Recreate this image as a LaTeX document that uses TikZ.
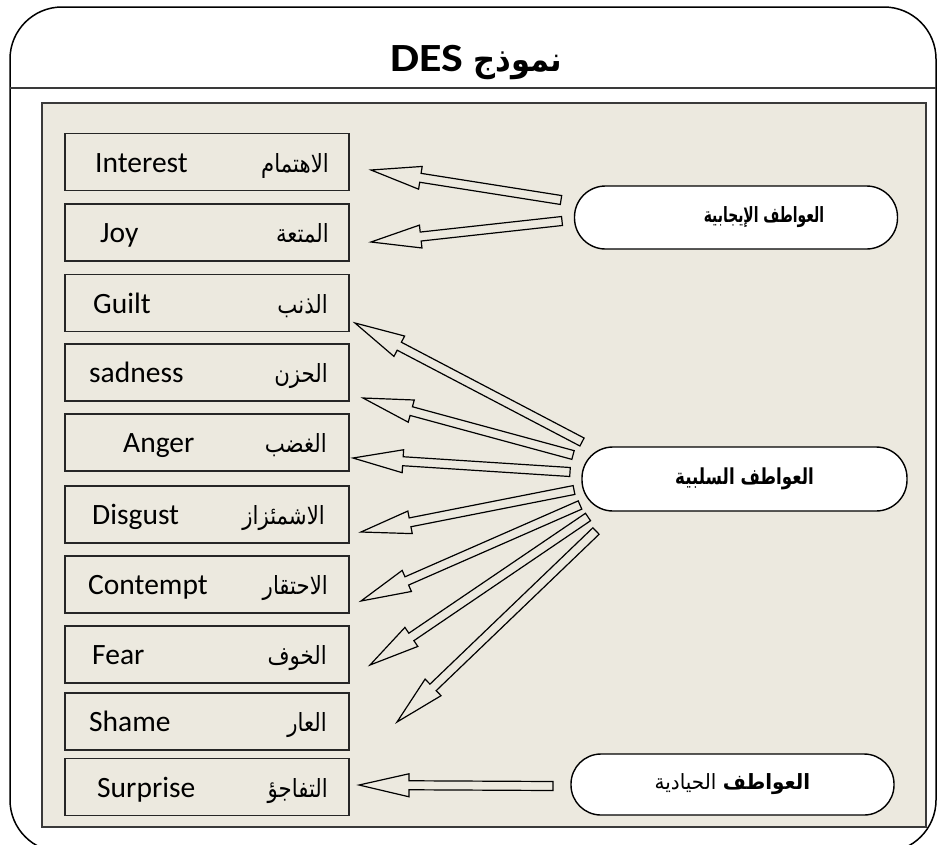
\documentclass[tikz,border=0pt]{standalone}
\usepackage{graphicx}
\usepackage{fontspec}
\setmainfont{Carlito}
\newfontfamily\arabicfont[Script=Arabic]{DejaVu Sans}
\TeXXeTstate=1
\usetikzlibrary{calc}

\definecolor{panelbg}{HTML}{ECE9DF}
\definecolor{rulegray}{HTML}{3A3A3A}

% horizontal narrowing of a text run by factor #1
\newcommand\narrow[2]{\scalebox{#1}[1]{#2}}

\tikzset{
  emobox/.style={draw=black!85, line width=1.4pt, fill=panelbg,
    minimum width=284pt, minimum height=57pt, inner sep=0pt},
  entext/.style={anchor=base west, inner sep=0pt,
    font=\fontsize{29.5}{32}\selectfont},
  artext/.style={anchor=base east, inner sep=0pt,
    font=\arabicfont\fontsize{25}{28}\selectfont},
  groupbox/.style={draw=black, line width=1.4pt, fill=white,
    rounded corners=31pt, minimum width=323pt, minimum height=63pt, inner sep=0pt},
  grouptext/.style={inner sep=0pt},
  hollowarrow/.style={draw=black, line width=1.2pt, fill=panelbg, line join=miter},
}

% hollow block arrow from tail #1 to tip #2
\newcommand\blockarrow[2]{%
  \coordinate (bh) at ($(#2)!50pt!(#1)$);
  \draw[hollowarrow]
    ($(#1)!4.5pt!90:(#2)$) -- ($(bh)!4.5pt!90:(#2)$) -- ($(bh)!11.5pt!90:(#2)$)
    -- (#2)
    -- ($(bh)!11.5pt!-90:(#2)$) -- ($(bh)!4.5pt!-90:(#2)$) -- ($(#1)!4.5pt!-90:(#2)$)
    -- cycle;}

\begin{document}
\begin{tikzpicture}[x=1pt, y=-1pt]
\useasboundingbox (0,0) rectangle (939,844);

% outer frame and title
\draw[line width=1.5pt, rounded corners=52pt] (10,852) rectangle (936,7);
\draw[rulegray, line width=2pt] (10,88) -- (936,88);
\node[anchor=base, inner sep=0pt, font=\bfseries] (title) at (476.5,71)
  {\narrow{1.15}{\fontsize{40}{44}\selectfont DES}\hspace{10pt}%
   \narrow{0.9}{\arabicfont\fontsize{34}{38}\selectfont\beginR نموذج\endR}};

% inner panel
\draw[rulegray, line width=2.2pt, fill=panelbg] (42,103) rectangle (926,827);

% emotion boxes
\node[emobox] (interest) at (207,162) {};
\node[emobox] (joy)      at (207,232.5) {};
\node[emobox] (guilt)    at (207,303) {};
\node[emobox] (sadness)  at (207,372.5) {};
\node[emobox] (anger)    at (207,442.5) {};
\node[emobox] (disgust)  at (207,514.5) {};
\node[emobox] (contempt) at (207,584.5) {};
\node[emobox] (fear)     at (207,654.5) {};
\node[emobox] (shame)    at (207,721.5) {};
\node[emobox] (surprise) at (207,787) {};

\node[entext] (interest-en) at (95,172)  {Interest};
\node[entext] (joy-en)      at (100,242.5) {Joy};
\node[entext] (guilt-en)    at (93,313)  {Guilt};
\node[entext] (sadness-en)  at (89,382.5) {sadness};
\node[entext] (anger-en)    at (123,452.5) {Anger};
\node[entext] (disgust-en)  at (92,524.5) {Disgust};
\node[entext] (contempt-en) at (88,594.5) {Contempt};
\node[entext] (fear-en)     at (92,664.5) {Fear};
\node[entext] (shame-en)    at (89,731.5) {Shame};
\node[entext] (surprise-en) at (97,797)  {Surprise};

\node[artext] (interest-ar) at (329,172)  {\narrow{0.85}{\beginR الاهتمام\endR}};
\node[artext] (joy-ar)      at (329,242.5) {\narrow{0.85}{\beginR المتعة\endR}};
\node[artext] (guilt-ar)    at (328,313)  {\narrow{0.85}{\beginR الذنب\endR}};
\node[artext] (sadness-ar)  at (328,382.5) {\narrow{0.85}{\beginR الحزن\endR}};
\node[artext] (anger-ar)    at (327,452.5) {\narrow{0.85}{\beginR الغضب\endR}};
\node[artext] (disgust-ar)  at (325,524.5) {\narrow{0.85}{\beginR الاشمئزاز\endR}};
\node[artext] (contempt-ar) at (328,594.5) {\narrow{0.85}{\beginR الاحتقار\endR}};
\node[artext] (fear-ar)     at (327,664.5) {\narrow{0.85}{\beginR الخوف\endR}};
\node[artext] (shame-ar)    at (327,731.5) {\narrow{0.85}{\beginR العار\endR}};
\node[artext] (surprise-ar) at (328,797)  {\narrow{0.85}{\beginR التفاجؤ\endR}};

% emotion groups
\node[groupbox] (positive) at (736,217.5) {};
\node[grouptext, font=\arabicfont\bfseries\fontsize{21}{25}\selectfont] (positive-label) at (764,217)
  {\narrow{0.66}{\beginR العواطف الإيجابية\endR}};
\node[groupbox, minimum width=325pt, minimum height=64pt,
      font=\arabicfont\bfseries\fontsize{22}{26}\selectfont] (negative) at (744.5,479)
  {\narrow{0.76}{\beginR العواطف السلبية\endR}};
\node[groupbox, minimum height=61pt, rounded corners=30pt,
      font=\arabicfont\fontsize{21}{25}\selectfont] (neutral) at (732.5,784.5)
  {\narrow{0.95}{\beginR{\bfseries العواطف} الحيادية\endR}};

% arrow ends
\coordinate (p1) at (561,200);  \coordinate (t1) at (371,170);
\coordinate (p2) at (562,221);  \coordinate (t2) at (371,242);
\coordinate (n1) at (582,442);  \coordinate (u1) at (355,323);
\coordinate (n2) at (573,455);  \coordinate (u2) at (363,398);
\coordinate (n3) at (570,472);  \coordinate (u3) at (353,458);
\coordinate (n4) at (574,490);  \coordinate (u4) at (361,532);
\coordinate (n5) at (580,505);  \coordinate (u5) at (361,601);
\coordinate (n6) at (588,517);  \coordinate (u6) at (370,665);
\coordinate (n7) at (596,531);  \coordinate (u7) at (397,722);
\coordinate (z1) at (553,786);  \coordinate (w1) at (359,785);

\blockarrow{p1}{t1}
\blockarrow{p2}{t2}
\blockarrow{n1}{u1}
\blockarrow{n2}{u2}
\blockarrow{n3}{u3}
\blockarrow{n4}{u4}
\blockarrow{n5}{u5}
\blockarrow{n6}{u6}
\blockarrow{n7}{u7}
\blockarrow{z1}{w1}
\end{tikzpicture}
\end{document}
